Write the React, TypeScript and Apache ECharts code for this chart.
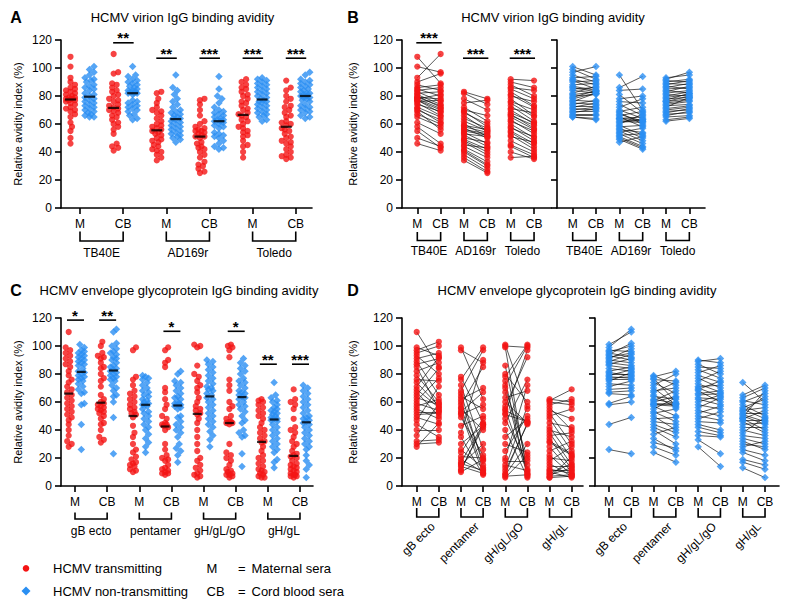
import React, { useEffect, useRef } from 'react';
import * as echarts from 'echarts';

const FONT = '"Liberation Sans", Arial, Helvetica, sans-serif';
const RED = '#f41414';
const BLUE = '#2a8ff2';

// ---------- labels ----------
const virionNames = ['TB40E', 'AD169r', 'Toledo'];
const glycoNames = ['gB ecto', 'pentamer', 'gH/gL/gO', 'gH/gL'];
const pairLabels = ['M', 'CB'];
const yAxisName = 'Relative avidity index (%)';

// ---------- virion avidity, HCMV transmitting (paired by subject) ----------
const tTB40E_M = [108, 101, 93, 90, 88, 86, 85, 84, 83, 82, 81, 80, 79, 79, 78, 78, 77, 77, 76, 75, 74, 72, 71, 70, 69, 67, 65, 61, 58, 55, 50, 46];
const tTB40E_CB = [89, 97, 110, 96, 84, 88, 80, 86, 76, 83, 74, 72, 78, 73, 71, 81, 70, 68, 77, 66, 69, 65, 61, 63, 56, 60, 58, 53, 46, 43, 44, 41];
const tAD169r_M = [83, 82, 78, 75, 72, 70, 69, 68, 66, 64, 62, 60, 59, 58, 57, 56, 55, 54, 53, 52, 50, 49, 48, 47, 45, 44, 42, 41, 40, 38, 36, 34];
const tAD169r_CB = [78, 74, 70, 77, 62, 66, 58, 60, 55, 57, 55, 51, 56, 54, 50, 53, 52, 46, 51, 44, 47, 42, 40, 38, 43, 36, 33, 31, 30, 28, 26, 25];
const tToledo_M = [92, 90, 88, 86, 85, 83, 81, 80, 78, 76, 75, 73, 71, 70, 68, 67, 66, 65, 63, 62, 60, 58, 57, 55, 54, 52, 51, 48, 45, 44, 40, 36];
const tToledo_CB = [91, 86, 80, 84, 78, 73, 72, 76, 66, 70, 65, 62, 68, 60, 61, 57, 59, 56, 53, 55, 50, 48, 51, 46, 44, 42, 47, 40, 38, 36, 35, 37];

// ---------- virion avidity, HCMV non-transmitting ----------
const nTB40E_M = [101, 99, 97, 95, 93, 92, 91, 90, 88, 87, 86, 85, 84, 82, 81, 80, 79, 78, 77, 76, 75, 74, 73, 72, 71, 70, 69, 68, 67, 66, 65, 65];
const nTB40E_CB = [95, 92, 101, 90, 94, 88, 85, 91, 89, 84, 83, 86, 82, 87, 83, 81, 84, 82, 76, 82, 74, 77, 73, 75, 70, 72, 69, 71, 67, 66, 64, 63];
const nAD169r_M = [95, 86, 84, 81, 78, 76, 74, 72, 70, 69, 68, 67, 66, 65, 64, 64, 63, 62, 61, 60, 59, 58, 57, 56, 55, 54, 53, 52, 51, 50, 49, 47];
const nAD169r_CB = [70, 94, 85, 68, 80, 75, 66, 78, 64, 72, 60, 62, 69, 58, 63, 65, 62, 61, 63, 67, 52, 59, 50, 54, 48, 57, 46, 53, 44, 43, 42, 51];
const nToledo_M = [93, 92, 91, 90, 89, 88, 87, 86, 85, 84, 83, 82, 81, 80, 79, 78, 77, 76, 76, 75, 74, 73, 72, 71, 70, 69, 68, 67, 66, 65, 63, 62];
const nToledo_CB = [95, 97, 90, 92, 88, 91, 85, 89, 86, 82, 87, 84, 80, 83, 81, 79, 82, 78, 80, 77, 76, 74, 79, 73, 72, 70, 71, 68, 69, 66, 65, 64];

// ---------- envelope glycoprotein avidity, HCMV transmitting ----------
const tGB_M = [110, 99, 97, 95, 93, 91, 89, 87, 85, 82, 79, 76, 74, 71, 69, 67, 65, 63, 61, 59, 57, 55, 53, 51, 49, 47, 44, 40, 36, 32, 30, 28];
const tGB_CB = [85, 93, 103, 100, 80, 95, 65, 91, 55, 88, 60, 75, 57, 92, 56, 50, 84, 58, 77, 54, 62, 48, 53, 52, 44, 71, 35, 40, 59, 33, 31, 45];
const tPent_M = [99, 97, 78, 76, 72, 68, 66, 64, 62, 60, 58, 56, 55, 53, 52, 51, 49, 43, 38, 35, 30, 26, 24, 21, 19, 17, 16, 15, 14, 12, 11, 10];
const tPent_CB = [62, 88, 45, 99, 26, 97, 15, 55, 70, 18, 85, 12, 40, 67, 9, 58, 22, 50, 90, 8, 43, 13, 48, 20, 10, 44, 11, 30, 9, 42, 44, 19];
const tGHO_M = [101, 100, 99, 86, 80, 78, 75, 72, 70, 67, 63, 60, 57, 55, 54, 52, 51, 48, 45, 40, 35, 30, 25, 20, 18, 15, 13, 11, 9, 8, 7, 6];
const tGHO_CB = [55, 99, 8, 12, 60, 101, 7, 100, 20, 10, 68, 45, 92, 9, 46, 97, 46, 15, 76, 6, 48, 24, 50, 72, 18, 11, 57, 44, 45, 30, 8, 22];
const tGHL_M = [62, 61, 60, 58, 56, 54, 52, 50, 48, 45, 42, 40, 38, 36, 34, 32, 31, 28, 25, 22, 20, 18, 16, 14, 12, 11, 10, 9, 8, 7, 6, 6];
const tGHL_CB = [60, 69, 58, 62, 40, 48, 30, 55, 25, 42, 20, 35, 15, 38, 12, 23, 22, 10, 32, 8, 18, 28, 7, 14, 9, 11, 6, 16, 13, 8, 21, 7];

// ---------- envelope glycoprotein avidity, HCMV non-transmitting ----------
const nGB_M = [101, 99, 97, 96, 95, 94, 93, 92, 91, 90, 89, 88, 87, 86, 84, 82, 81, 80, 79, 78, 77, 76, 75, 73, 71, 69, 67, 66, 59, 58, 44, 26];
const nGB_CB = [110, 112, 96, 100, 92, 102, 90, 95, 98, 88, 94, 86, 91, 84, 82, 85, 79, 80, 83, 77, 78, 76, 81, 72, 75, 70, 68, 65, 64, 60, 49, 23];
const nPent_M = [79, 78, 77, 76, 74, 72, 70, 68, 67, 65, 64, 62, 61, 60, 59, 58, 58, 57, 55, 53, 52, 50, 48, 46, 44, 42, 40, 37, 34, 31, 28, 24];
const nPent_CB = [72, 82, 60, 75, 66, 80, 58, 70, 74, 56, 62, 59, 68, 64, 58, 59, 57, 50, 63, 46, 55, 40, 49, 44, 38, 35, 30, 42, 25, 27, 22, 17];
const nGHO_M = [90, 89, 87, 85, 83, 81, 79, 77, 75, 73, 71, 70, 69, 68, 66, 65, 63, 62, 60, 58, 56, 54, 52, 50, 48, 46, 44, 42, 39, 36, 33, 28];
const nGHO_CB = [88, 91, 80, 84, 77, 86, 74, 70, 82, 67, 72, 64, 75, 60, 68, 66, 62, 58, 65, 55, 63, 50, 57, 47, 53, 45, 40, 38, 36, 35, 23, 14];
const nGHL_M = [74, 65, 63, 61, 60, 58, 56, 55, 54, 53, 52, 51, 50, 49, 48, 48, 47, 46, 44, 42, 40, 38, 36, 34, 32, 30, 28, 26, 24, 19, 17, 13];
const nGHL_CB = [60, 72, 70, 58, 66, 50, 62, 48, 56, 64, 52, 46, 44, 68, 40, 54, 47, 38, 45, 42, 36, 49, 34, 30, 26, 28, 32, 22, 18, 15, 12, 6];

// ---------- significance annotations ----------
const sigA_pos = [1, 2, 3, 4, 5];
const sigA_text = ['**', '**', '***', '***', '***'];
const sigA_level = [118, 107, 107, 107, 107];
const sigB_group = [0, 1, 2];
const sigB_text = ['***', '***', '***'];
const sigB_level = [118, 107, 107];
const sigC_pos = [0, 1, 3, 5, 6, 7];
const sigC_text = ['*', '**', '*', '*', '**', '***'];
const sigC_level = [118.5, 118.5, 110.5, 110.5, 87, 87];

const virionT = [[tTB40E_M, tTB40E_CB], [tAD169r_M, tAD169r_CB], [tToledo_M, tToledo_CB]];
const virionN = [[nTB40E_M, nTB40E_CB], [nAD169r_M, nAD169r_CB], [nToledo_M, nToledo_CB]];
const glycoT = [[tGB_M, tGB_CB], [tPent_M, tPent_CB], [tGHO_M, tGHO_CB], [tGHL_M, tGHL_CB]];
const glycoN = [[nGB_M, nGB_CB], [nPent_M, nPent_CB], [nGHO_M, nGHO_CB], [nGHL_M, nGHL_CB]];

interface Panel { left: number; top: number; width: number; height: number; tick0: number; step: number; n: number; yLabels: boolean; nameGap: number; }
const PANELS: Panel[] = [
  { left: 61, top: 40, width: 251, height: 168, tick0: 80, step: 43.15, n: 6, yLabels: true, nameGap: 38 },    // A
  { left: 402, top: 40, width: 149, height: 168, tick0: 417.3, step: 23.35, n: 6, yLabels: true, nameGap: 44 }, // B left
  { left: 557, top: 40, width: 148, height: 168, tick0: 572.7, step: 23.33, n: 6, yLabels: false, nameGap: 0 }, // B right
  { left: 61, top: 318, width: 252, height: 168, tick0: 75, step: 32.14, n: 8, yLabels: true, nameGap: 38 },    // C
  { left: 402, top: 318, width: 181, height: 168, tick0: 416.7, step: 22.14, n: 8, yLabels: true, nameGap: 44 }, // D left
  { left: 595, top: 318, width: 184, height: 168, tick0: 609, step: 22.29, n: 8, yLabels: false, nameGap: 0 },  // D right
];
const xMin = (p: Panel) => (p.left - p.tick0) / p.step;
const xMax = (p: Panel) => (p.left + p.width - p.tick0) / p.step;
const pxX = (p: Panel, x: number) => p.tick0 + p.step * x;
const pxY = (p: Panel, v: number) => p.top + p.height * (1 - v / 120);

function median(a: number[]) {
  const s = [...a].sort((x, y) => x - y);
  const n = s.length;
  return n % 2 ? s[(n - 1) / 2] : (s[n / 2 - 1] + s[n / 2]) / 2;
}

// deterministic compact beeswarm layout (pixel offsets -> axis units)
function swarm(vals: number[], yScale: number, xScale: number, d: number, maxOff: number): number[] {
  const order = vals.map((_, i) => i).sort((a, b) => vals[a] - vals[b]);
  const placed: { x: number; y: number }[] = [];
  const out = new Array(vals.length).fill(0);
  const cands: number[] = [0];
  for (let s = 1.5; s <= maxOff + 0.01; s += 1.5) { cands.push(s); cands.push(-s); }
  for (const i of order) {
    const y = vals[i] * yScale;
    let chosen = 0;
    let best = -1;
    for (const c of cands) {
      const md = placed.reduce((m, pp) => Math.min(m, Math.hypot(pp.x - c, pp.y - y)), Infinity);
      if (md >= d) { chosen = c; best = Infinity; break; }
      if (md > best) { best = md; chosen = c; }
    }
    placed.push({ x: chosen, y });
    out[i] = chosen / xScale;
  }
  return out;
}

function buildOption() {
  const series: any[] = [];
  const gfx: any[] = [];
  const text = (x: number, y: number, t: string, o: any = {}) => gfx.push({
    type: 'text', x, y, rotation: o.rot || 0, z: 10,
    style: { text: t, fill: '#000', fontFamily: FONT, fontSize: o.size || 12, fontWeight: o.weight || 'normal', align: o.align || 'center', verticalAlign: o.va || 'middle' },
  });
  const line = (x1: number, y1: number, x2: number, y2: number, w = 1.6) => gfx.push({ type: 'line', z: 10, shape: { x1, y1, x2, y2 }, style: { stroke: '#000', lineWidth: w } });
  const bracket = (x1: number, x2: number, y1: number, y2: number) => gfx.push({ type: 'polyline', z: 10, shape: { points: [[x1, y1], [x1, y2], [x2, y2], [x2, y1]] }, style: { stroke: '#000', lineWidth: 1.6, fill: null } });

  // --- dot plots (A and C) ---
  const dotPlot = (pi: number, tGroups: number[][][], nGroups: number[][][], offPx: number, medW: number, maxOff: number) => {
    const p = PANELS[pi];
    const off = offPx / p.step;
    const yScale = p.height / 120;
    const red: number[][] = [];
    const blue: number[][] = [];
    const med: number[][] = [];
    tGroups.forEach((pair, g) => pair.forEach((vals, k) => {
      const o = swarm(vals, yScale, p.step, 4.2, maxOff);
      vals.forEach((v, i) => red.push([2 * g + k - off + o[i], v]));
      med.push([2 * g + k - off, median(vals)]);
    }));
    nGroups.forEach((pair, g) => pair.forEach((vals, k) => {
      const o = swarm(vals, yScale, p.step, 4.6, maxOff);
      vals.forEach((v, i) => blue.push([2 * g + k + off + o[i], v]));
      med.push([2 * g + k + off, median(vals)]);
    }));
    series.push({ type: 'scatter', xAxisIndex: pi, yAxisIndex: pi, data: red, symbol: 'circle', symbolSize: 6.2, itemStyle: { color: RED }, z: 2, silent: true });
    series.push({ type: 'scatter', xAxisIndex: pi, yAxisIndex: pi, data: blue, symbol: 'diamond', symbolSize: 7.5, itemStyle: { color: BLUE }, z: 2, silent: true });
    series.push({ type: 'scatter', xAxisIndex: pi, yAxisIndex: pi, data: med, symbol: 'rect', symbolSize: [medW, 2.2], itemStyle: { color: '#000' }, z: 3, silent: true });
  };
  dotPlot(0, virionT, virionN, 9.5, 11, 4.5);
  dotPlot(3, glycoT, glycoN, 6.3, 9, 3);

  // --- paired plots (B and D) ---
  const pairPlot = (pi: number, groups: number[][][], color: string, symbol: string, size: number) => {
    const lines = groups.flatMap((pair, g) => pair[0].map((v, i) => ({ coords: [[2 * g, v], [2 * g + 1, pair[1][i]]] })));
    const pts = groups.flatMap((pair, g) => pair.flatMap((vals, k) => vals.map(v => [2 * g + k, v])));
    series.push({ type: 'lines', coordinateSystem: 'cartesian2d', xAxisIndex: pi, yAxisIndex: pi, data: lines, lineStyle: { color: '#111', width: 0.7, opacity: 1, curveness: 0 }, z: 1, silent: true });
    series.push({ type: 'scatter', xAxisIndex: pi, yAxisIndex: pi, data: pts, symbol, symbolSize: size, itemStyle: { color }, z: 2, silent: true });
  };
  pairPlot(1, virionT, RED, 'circle', 6.2);
  pairPlot(2, virionN, BLUE, 'diamond', 7.5);
  pairPlot(4, glycoT, RED, 'circle', 6.2);
  pairPlot(5, glycoN, BLUE, 'diamond', 7.5);

  // --- significance bars ---
  const A = PANELS[0], B = PANELS[1], C = PANELS[3];
  sigA_pos.forEach((pos, i) => {
    const y = pxY(A, sigA_level[i]);
    line(pxX(A, pos) - 10, y, pxX(A, pos) + 10.5, y);
    text(pxX(A, pos), y - 5, sigA_text[i], { size: 15, weight: 'bold' });
  });
  sigB_group.forEach((g, i) => {
    const y = pxY(B, sigB_level[i]);
    line(pxX(B, 2 * g) - 1, y, pxX(B, 2 * g + 1) + 1, y);
    text((pxX(B, 2 * g) + pxX(B, 2 * g + 1)) / 2, y - 5, sigB_text[i], { size: 15, weight: 'bold' });
  });
  sigC_pos.forEach((pos, i) => {
    const y = pxY(C, sigC_level[i]);
    line(pxX(C, pos) - 8, y, pxX(C, pos) + 9, y);
    text(pxX(C, pos), y - 5, sigC_text[i], { size: 15, weight: 'bold' });
  });

  // --- brackets and group names ---
  const groupBrackets = (pi: number, names: string[], y1: number, y2: number, nameY: number, rotated: boolean) => {
    const p = PANELS[pi];
    names.forEach((nm, g) => {
      const x1 = pxX(p, 2 * g), x2 = pxX(p, 2 * g + 1);
      bracket(x1, x2, y1, y2);
      if (rotated) text((x1 + x2) / 2 + 5, nameY, nm, { size: 12, align: 'right', rot: Math.PI / 4 });
      else text((x1 + x2) / 2, nameY, nm, { size: 12 });
    });
  };
  groupBrackets(0, virionNames, 231.5, 241, 252.7, false);
  groupBrackets(1, virionNames, 232, 240.5, 250.7, false);
  groupBrackets(2, virionNames, 232, 240.5, 250.7, false);
  groupBrackets(3, glycoNames, 512.5, 519, 531, false);
  groupBrackets(4, glycoNames, 508, 517, 524.5, true);
  groupBrackets(5, glycoNames, 508, 517, 524.5, true);

  // --- titles and panel letters ---
  text(16, 17.5, 'A', { size: 16, weight: 'bold' });
  text(353, 17.5, 'B', { size: 16, weight: 'bold' });
  text(16, 290, 'C', { size: 16, weight: 'bold' });
  text(353, 290, 'D', { size: 16, weight: 'bold' });
  text(182.5, 17, 'HCMV virion IgG binding avidity', { size: 13 });
  text(553, 17, 'HCMV virion IgG binding avidity', { size: 13 });
  text(179, 290, 'HCMV envelope glycoprotein IgG binding avidity', { size: 13 });
  text(577, 290, 'HCMV envelope glycoprotein IgG binding avidity', { size: 13 });

  // --- legend ---
  gfx.push({ type: 'circle', z: 10, shape: { cx: 26, cy: 568.3, r: 3.3 }, style: { fill: RED } });
  gfx.push({ type: 'polygon', z: 10, shape: { points: [[26, 586.5], [30.5, 591], [26, 595.5], [21.5, 591]] }, style: { fill: BLUE } });
  text(53, 568.5, 'HCMV transmitting', { size: 13, align: 'left' });
  text(53, 591, 'HCMV non-transmitting', { size: 13, align: 'left' });
  text(206.5, 568.5, 'M', { size: 13, align: 'left' });
  text(206.5, 591, 'CB', { size: 13, align: 'left' });
  text(238, 568.5, '=', { size: 13, align: 'left' });
  text(238, 591, '=', { size: 13, align: 'left' });
  text(251.5, 568.5, 'Maternal sera', { size: 13, align: 'left' });
  text(251.5, 591, 'Cord blood sera', { size: 13, align: 'left' });

  const axisLine = { show: true, onZero: false, lineStyle: { color: '#000', width: 1.6 } };
  const option: any = {
    animation: false,
    backgroundColor: '#fff',
    textStyle: { fontFamily: FONT },
    grid: PANELS.map(p => ({ left: p.left, top: p.top, width: p.width, height: p.height, containLabel: false })),
    xAxis: PANELS.map((p, i) => {
      const ticks = Array.from({ length: p.n }, (_, k) => k);
      return {
        gridIndex: i, type: 'value', min: xMin(p), max: xMax(p),
        axisLine,
        axisTick: { show: true, customValues: ticks, length: 6, lineStyle: { color: '#000', width: 1.6 } },
        axisLabel: { show: true, customValues: ticks, formatter: (v: number) => pairLabels[Math.round(v) % 2], margin: 10, fontSize: 12, color: '#000', fontFamily: FONT },
        splitLine: { show: false },
      };
    }),
    yAxis: PANELS.map((p, i) => ({
      gridIndex: i, type: 'value', min: 0, max: 120, interval: 20,
      axisLine,
      axisTick: { show: true, length: 6, lineStyle: { color: '#000', width: 1.6 } },
      axisLabel: { show: p.yLabels, fontSize: 12, margin: 9, color: '#000', fontFamily: FONT },
      splitLine: { show: false },
      name: p.yLabels ? yAxisName : '',
      nameLocation: 'middle', nameGap: p.nameGap,
      nameTextStyle: { fontSize: 11, color: '#000', fontFamily: FONT },
    })),
    series,
    graphic: gfx,
  };
  return option;
}

export default function App() {
  const ref = useRef<HTMLDivElement>(null);
  useEffect(() => {
    if (!ref.current) return;
    const chart = echarts.init(ref.current, undefined, { renderer: 'svg' });
    chart.setOption(buildOption());
    return () => chart.dispose();
  }, []);
  return <div ref={ref} style={{ position: 'absolute', left: 0, top: 0, width: 793, height: 609, background: '#fff' }} />;
}
